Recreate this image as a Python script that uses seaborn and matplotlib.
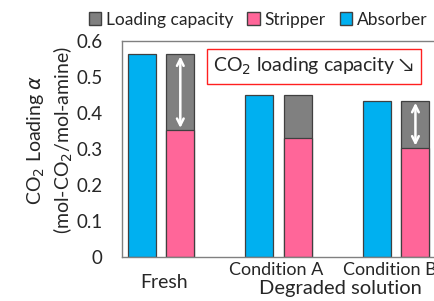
import numpy as np
import pandas as pd
import matplotlib
matplotlib.use('Agg')
import matplotlib.pyplot as plt
from matplotlib.patches import Patch
import seaborn as sns

# Values
groups = ['Fresh', 'Condition A', 'Condition B']
absorber = [0.563, 0.449, 0.434]
stripper = [0.352, 0.329, 0.303]
capacity = [0.211, 0.120, 0.131]
arrow_groups = ['Fresh', 'Condition B']

c_abs = '#00B0F0'
c_str = '#FF6699'
c_cap = '#808080'

sns.set_style('white')
plt.rcParams['font.family'] = ['Lato', 'DejaVu Sans']

# gray bar = stripper + capacity stacked, pink overlay = stripper
df_tot = pd.DataFrame({
    'group': groups * 2,
    'kind': ['Absorber'] * 3 + ['Stripper'] * 3,
    'value': absorber + [s + c for s, c in zip(stripper, capacity)],
})
df_str = pd.DataFrame({
    'group': groups * 2,
    'kind': ['Absorber'] * 3 + ['Stripper'] * 3,
    'value': [np.nan] * 3 + stripper,
})

fig = plt.figure(figsize=(4.34, 3.01), dpi=100)
ax = fig.add_axes([122 / 434, 0.147, (442 - 122) / 434, 0.717])

kw = dict(x='group', y='value', hue='kind', hue_order=['Absorber', 'Stripper'],
          width=0.655, gap=0.275, edgecolor='#404040', linewidth=0.9,
          saturation=1, legend=False, ax=ax, errorbar=None)
sns.barplot(data=df_tot, palette=[c_abs, c_cap], **kw)
sns.barplot(data=df_str, palette=[c_abs, c_str], **kw)

ax.set_ylim(0, 0.6)
ax.set_xlim(-0.332, 2.39)
ax.set_yticks(np.arange(0, 0.61, 0.1))
ax.set_yticklabels(['0', '0.1', '0.2', '0.3', '0.4', '0.5', '0.6'], fontsize=13.5)
ax.tick_params(axis='y', direction='in', length=5, color='#808080', width=0.9, pad=14)
ax.set_xticks([])
ax.set_xlabel('')
ax.set_ylabel('')
for s in ax.spines.values():
    s.set_color('#808080')
    s.set_linewidth(1.0)

# y label sits a bit above the axis centre in the reference
fig.text(50 / 434, 1 - 140 / 301, 'CO$_2$ Loading $\\alpha$\n(mol-CO$_2$/mol-amine)',
         rotation=90, ha='center', va='center', fontsize=14, linespacing=1.25)

# category labels
trans = ax.get_xaxis_transform()
ax.text(0.03, -0.08, 'Fresh', transform=trans, ha='center', va='top', fontsize=14)
ax.text(0.98, -0.022, 'Condition A', transform=trans, ha='center', va='top', fontsize=13)
ax.text(1.95, -0.022, 'Condition B', transform=trans, ha='center', va='top', fontsize=13)
ax.text(1.53, -0.108, 'Degraded solution', transform=trans, ha='center', va='top', fontsize=14.5)

# white double arrows in the loading capacity segments
for g in arrow_groups:
    i = groups.index(g)
    x = i + 0.164
    ax.annotate('', xy=(x, stripper[i] + 0.006), xytext=(x, stripper[i] + capacity[i] - 0.006),
                arrowprops=dict(arrowstyle='<->', color='white', lw=1.8,
                                mutation_scale=12, shrinkA=0, shrinkB=0))

ax.text(1.30, 0.53, 'CO$_2$ loading capacity \u2198', fontsize=14, ha='center', va='center',
        bbox=dict(boxstyle='square,pad=0.35', fc='white', ec='#FF2020', lw=1))

handles = [Patch(fc=c_cap, ec='#404040', label='Loading capacity'),
           Patch(fc=c_str, ec='#404040', label='Stripper'),
           Patch(fc=c_abs, ec='#404040', label='Absorber')]
fig.legend(handles=handles, loc='center', bbox_to_anchor=(0.595, 0.935), ncol=3,
           frameon=False, fontsize=12.5, handlelength=0.7, handleheight=0.7,
           handletextpad=0.3, columnspacing=0.8, borderpad=0)

fig.savefig('out.png', dpi=100)
